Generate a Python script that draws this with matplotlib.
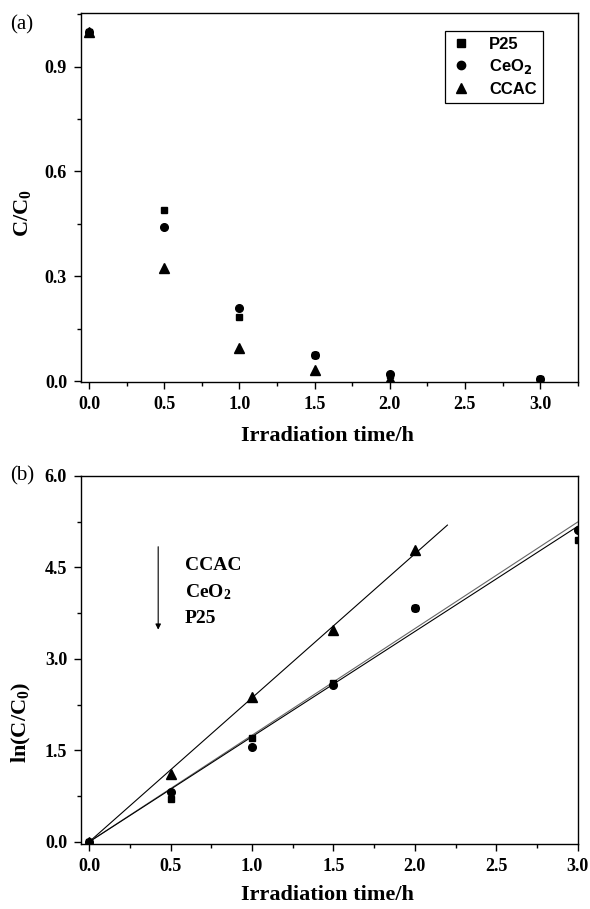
import numpy as np
import matplotlib
matplotlib.use('Agg')
import matplotlib.pyplot as plt
from matplotlib.ticker import MultipleLocator, FormatStrFormatter
from matplotlib.lines import Line2D
from matplotlib.font_manager import FontProperties

plt.rcParams['font.family'] = ['Liberation Serif', 'DejaVu Serif']
plt.rcParams['font.weight'] = 'bold'
plt.rcParams['mathtext.fontset'] = 'custom'
plt.rcParams['mathtext.rm'] = 'Liberation Serif:bold'
plt.rcParams['mathtext.bf'] = 'Liberation Serif:bold'
plt.rcParams['mathtext.it'] = 'Liberation Serif:bold:italic'

# ---------------- data ----------------
time_all = [0.0, 0.5, 1.0, 1.5, 2.0, 3.0]
time_ccac = [0.0, 0.5, 1.0, 1.5, 2.0]

# (a) C/C0
p25_ratio = [1.0, 0.49, 0.183, 0.075, 0.018, 0.007]
ceo2_ratio = [1.0, 0.44, 0.21, 0.075, 0.020, 0.006]
ccac_ratio = [1.0, 0.325, 0.095, 0.032, 0.006]

# (b) ln(C/C0)
p25_ln = [0.0, 0.70, 1.70, 2.60, 3.83, 4.95]
ceo2_ln = [0.0, 0.82, 1.55, 2.58, 3.83, 5.12]
ccac_ln = [0.0, 1.12, 2.37, 3.48, 4.78]

series_labels = ['P25', 'CeO$_\\mathbf{2}$', 'CCAC']
annot_labels = ['CCAC', 'CeO$_\\mathrm{2}$', 'P25']


def slope_through_origin(x, y):
    x = np.asarray(x, dtype=float)
    y = np.asarray(y, dtype=float)
    return float((x * y).sum() / (x * x).sum())


W, H = 590, 909
fig = plt.figure(figsize=(W / 100, H / 100), dpi=100)

left = 81 / W
width = (577.7 - 81) / W
ax_a = fig.add_axes([left, 1 - 381.7 / H, width, (381.7 - 13.3) / H])
ax_b = fig.add_axes([left, 1 - 844 / H, width, (844 - 476) / H])

tick_fs = 13
label_fs = 16

for ax in (ax_a, ax_b):
    for sp in ax.spines.values():
        sp.set_linewidth(1.0)
    ax.tick_params(which='major', direction='out', length=5, width=1.0,
                   labelsize=tick_fs, pad=5)
    ax.tick_params(which='minor', direction='out', length=3, width=1.0)
    ax.xaxis.set_major_locator(MultipleLocator(0.5))
    ax.xaxis.set_minor_locator(MultipleLocator(0.25))
    ax.xaxis.set_major_formatter(FormatStrFormatter('%.1f'))
    ax.yaxis.set_major_formatter(FormatStrFormatter('%.1f'))

ms_sq, ms_ci, ms_tr = 5, 5.5, 6.5

# ---------------- panel (a) ----------------
ax_a.plot(time_all, p25_ratio, ls='none', marker='s', ms=ms_sq, color='black', zorder=3)
ax_a.plot(time_all, ceo2_ratio, ls='none', marker='o', ms=ms_ci, color='black', zorder=3)
ax_a.plot(time_ccac, ccac_ratio, ls='none', marker='^', ms=ms_tr, color='black', zorder=3)
ax_a.set_xlim(-0.053, 3.25)
ax_a.set_ylim(-0.002, 1.053)
ax_a.yaxis.set_major_locator(MultipleLocator(0.3))
ax_a.yaxis.set_minor_locator(MultipleLocator(0.15))
ax_a.set_xlabel('Irradiation time/h', fontsize=label_fs, fontweight='bold')
ax_a.set_ylabel('C/C$_\\mathrm{0}$', fontsize=label_fs, fontweight='bold')
ax_a.yaxis.set_label_coords(-0.097, 0.458)
ax_a.xaxis.set_label_coords(0.497, -0.12)

handles = [Line2D([], [], ls='none', marker='s', ms=ms_sq + 0.5, color='black'),
           Line2D([], [], ls='none', marker='o', ms=ms_ci + 0.5, color='black'),
           Line2D([], [], ls='none', marker='^', ms=ms_tr + 0.5, color='black')]
leg_font = FontProperties(family='Liberation Sans', weight='bold', size=12,
                          math_fontfamily='dejavusans')
leg = ax_a.legend(handles, series_labels, loc='upper left',
                  bbox_to_anchor=(0.733, 0.952), borderaxespad=0,
                  prop=leg_font, frameon=True, fancybox=False,
                  edgecolor='black', framealpha=1, handlelength=1.2,
                  handletextpad=1.1, labelspacing=0.33, borderpad=0.35)
leg.get_frame().set_linewidth(0.9)

fig.text(22 / W, 1 - 25 / H, '(a)', fontsize=15, fontweight='normal',
         ha='center', va='center')

# ---------------- panel (b) ----------------
k_ccac = slope_through_origin(time_ccac, ccac_ln)
k_ceo2 = slope_through_origin(time_all, ceo2_ln)
k_p25 = slope_through_origin(time_all, p25_ln)

x_ccac_fit = np.array([0.0, 2.2])
x_fit = np.array([0.0, 3.0])
ax_b.plot(x_ccac_fit, k_ccac * x_ccac_fit, color='black', lw=0.8, zorder=2)
ax_b.plot(x_fit, k_ceo2 * x_fit, color='#666666', lw=0.8, zorder=2)
ax_b.plot(x_fit, k_p25 * x_fit, color='black', lw=0.8, zorder=2)

ax_b.plot(time_all, p25_ln, ls='none', marker='s', ms=ms_sq, color='black', zorder=3)
ax_b.plot(time_all, ceo2_ln, ls='none', marker='o', ms=ms_ci, color='black', zorder=3)
ax_b.plot(time_ccac, ccac_ln, ls='none', marker='^', ms=ms_tr, color='black', zorder=3)

ax_b.set_xlim(-0.05, 3.0)
ax_b.set_ylim(-0.035, 6.0)
ax_b.yaxis.set_major_locator(MultipleLocator(1.5))
ax_b.yaxis.set_minor_locator(MultipleLocator(0.75))
ax_b.set_xlabel('Irradiation time/h', fontsize=label_fs, fontweight='bold')
ax_b.set_ylabel('ln(C/C$_\\mathrm{0}$)', fontsize=label_fs, fontweight='bold')
ax_b.yaxis.set_label_coords(-0.097, 0.33)
ax_b.xaxis.set_label_coords(0.497, -0.112)

ax_b.annotate('', xy=(0.424, 3.48), xytext=(0.424, 4.84),
              arrowprops=dict(arrowstyle='-|>', color='black', lw=0.8,
                              mutation_scale=8, shrinkA=0, shrinkB=0))
for lbl, yv in zip(annot_labels, [4.54, 4.10, 3.67]):
    ax_b.text(0.586, yv, lbl, fontsize=14, fontweight='bold',
              ha='left', va='center')

fig.text(22 / W, 1 - 476 / H, '(b)', fontsize=15, fontweight='normal',
         ha='center', va='center')

fig.savefig('out.png', dpi=100)
